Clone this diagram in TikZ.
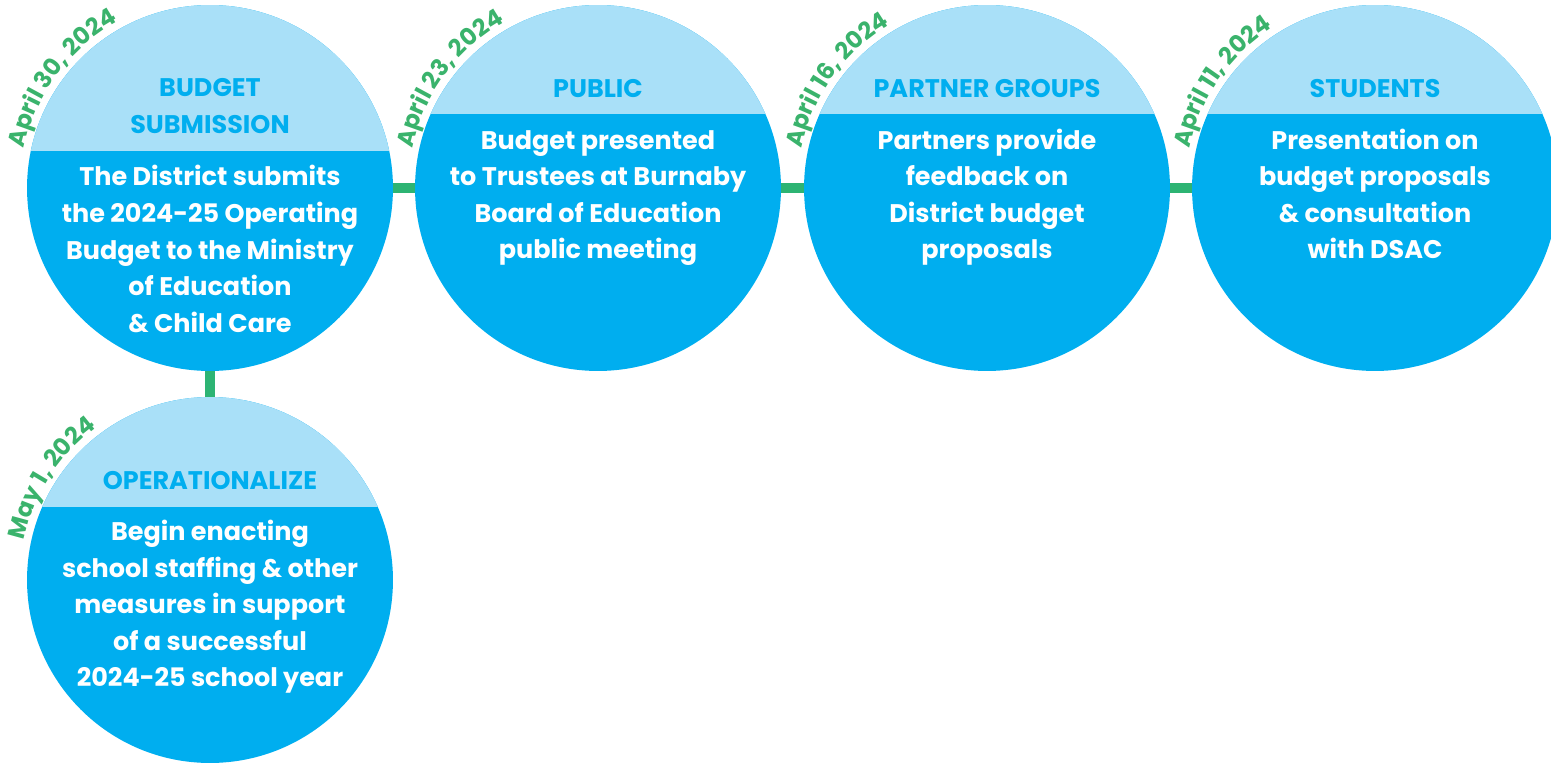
\documentclass[tikz,border=0pt]{standalone}
\usepackage{fontspec}
\setmainfont{Poppins}
\usepackage{xcolor}
\usetikzlibrary{decorations.text}

\definecolor{bubbleblue}{HTML}{00AEEF}
\definecolor{capblue}{HTML}{A9E0F8}
\definecolor{linkgreen}{HTML}{2DB473}
\definecolor{dategreen}{HTML}{3AB36C}

\begin{document}
\begin{tikzpicture}[x=0.02cm, y=0.02cm,
    bubble/.style={circle, fill=bubbleblue, minimum size=7.32cm, inner sep=0pt, outer sep=0pt,
        path picture={\fill[capblue] (path picture bounding box.north west) rectangle ([yshift=#1]path picture bounding box.east);}},
    title/.style={text=bubbleblue, font=\fontsize{14.5}{20.8}\selectfont\bfseries, align=center, inner sep=0pt},
    body/.style={text=white, font=\fontsize{14.5}{20.8}\selectfont\bfseries, align=center, inner sep=0pt},
    link/.style={draw=linkgreen, line width=0.2cm},
    datearc/.style={decorate, decoration={text along path, text align=left,
        text={|\fontsize{13.5}{13.5}\selectfont\bfseries\color{dategreen}|#1}}}]
    \useasboundingbox (0,0) rectangle (1551,-764);

    % Bubbles
    \node[bubble=0.74cm] (c1) at (210,-188) {};
    \node[bubble=1.48cm] (c2) at (598,-188) {};
    \node[bubble=1.48cm] (c3) at (987,-188) {};
    \node[bubble=1.48cm] (c4) at (1375,-188) {};
    \node[bubble=1.46cm] (c5) at (210,-580) {};

    % Links
    \draw[link] (c1) -- (c2);
    \draw[link] (c2) -- (c3);
    \draw[link] (c3) -- (c4);
    \draw[link] (c1) -- (c5);

    % Titles
    \node[title] (t1) at (210,-106) {BUDGET\\SUBMISSION};
    \node[title] (t2) at (598,-89) {PUBLIC};
    \node[title] (t3) at (987,-89) {PARTNER GROUPS};
    \node[title] (t4) at (1375,-89) {STUDENTS};
    \node[title] (t5) at (210,-481) {OPERATIONALIZE};

    % Texts
    \node[body] (b1) at (210,-249) {The District submits\\the 2024-25 Operating\\Budget to the Ministry\\of Education\\\& Child Care};
    \node[body] (b2) at (598,-198) {Budget presented\\to Trustees at Burnaby\\Board of Education\\public meeting};
    \node[body] (b3) at (987,-197) {Partners provide\\feedback on\\District budget\\proposals};
    \node[body] (b4) at (1375,-194) {Presentation on\\budget proposals\\\& consultation\\with DSAC};
    \node[body] (b5) at (210,-607) {Begin enacting\\school staffing \& other\\measures in support\\of a successful\\2024-25 school year};

    % Dates
    \path[datearc={April 30, 2024}] ([shift={(168:3.8cm)}]c1.center) arc[start angle=168, end angle=95, radius=3.8cm];
    \path[datearc={April 23, 2024}] ([shift={(168:3.8cm)}]c2.center) arc[start angle=168, end angle=95, radius=3.8cm];
    \path[datearc={April 16, 2024}] ([shift={(168:3.8cm)}]c3.center) arc[start angle=168, end angle=95, radius=3.8cm];
    \path[datearc={April 11, 2024}] ([shift={(168:3.8cm)}]c4.center) arc[start angle=168, end angle=95, radius=3.8cm];
    \path[datearc={May 1, 2024}] ([shift={(168:3.8cm)}]c5.center) arc[start angle=168, end angle=95, radius=3.8cm];

\end{tikzpicture}
\end{document}
